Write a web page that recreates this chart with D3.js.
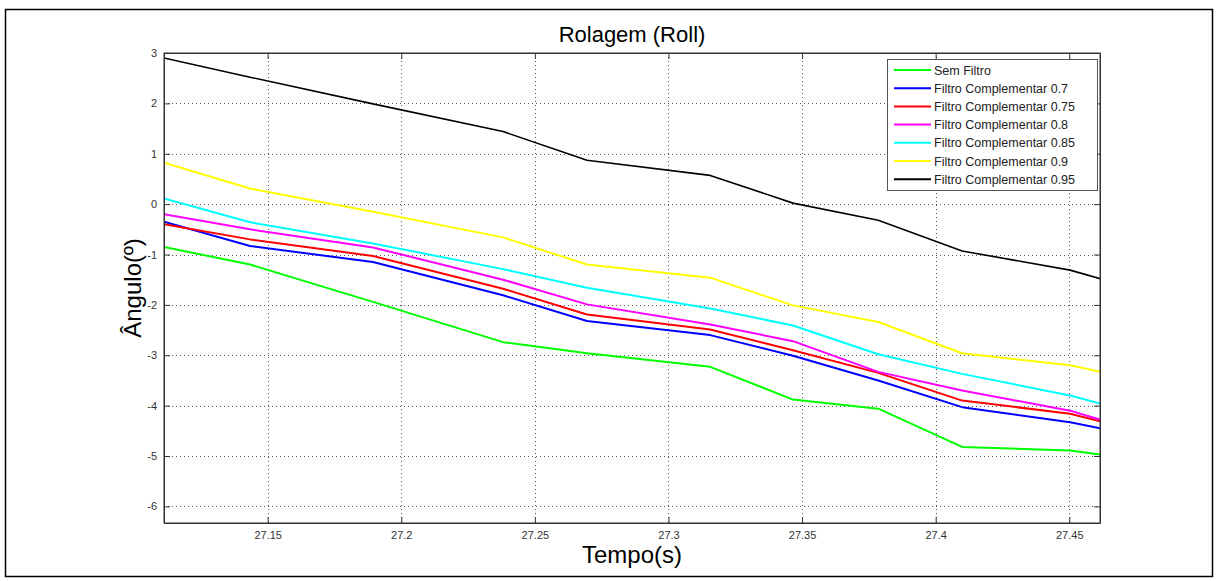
<!DOCTYPE html>
<html>
<head>
<meta charset="utf-8">
<script src="https://cdn.jsdelivr.net/npm/d3@7"></script>
<style>
  body { margin: 0; background: #fff; }
  text { font-family: Arial, "Liberation Sans", sans-serif; }
</style>
</head>
<body>
<div class="container"></div>
<script>
// dados
const tempo = [27.1112, 27.1434, 27.1894, 27.2381, 27.2695, 27.3156, 27.3466, 27.3785, 27.4099, 27.4503, 27.4616]
const semFiltro = [-0.85, -1.20, -1.94, -2.74, -2.96, -3.23, -3.88, -4.06, -4.82, -4.89, -4.97]
const comp070 = [-0.35, -0.83, -1.15, -1.81, -2.32, -2.60, -3.01, -3.50, -4.03, -4.33, -4.45]
const comp075 = [-0.40, -0.70, -1.03, -1.68, -2.19, -2.49, -2.90, -3.35, -3.90, -4.16, -4.31]
const comp080 = [-0.20, -0.50, -0.86, -1.50, -1.99, -2.39, -2.72, -3.33, -3.70, -4.10, -4.28]
const comp085 = [0.11, -0.36, -0.78, -1.29, -1.66, -2.07, -2.41, -2.98, -3.37, -3.80, -3.96]
const comp090 = [0.82, 0.31, -0.15, -0.66, -1.20, -1.46, -2.01, -2.34, -2.96, -3.20, -3.33]
const comp095 = [2.90, 2.52, 1.99, 1.44, 0.87, 0.57, 0.02, -0.32, -0.93, -1.31, -1.48]

const nomes = ["Sem Filtro", "Filtro Complementar 0.7", "Filtro Complementar 0.75", "Filtro Complementar 0.8",
               "Filtro Complementar 0.85", "Filtro Complementar 0.9", "Filtro Complementar 0.95"]
const cores = ["#00ff00", "#0000ff", "#ff0000", "#ff00ff", "#00ffff", "#ffff00", "#000000"]
const series = [semFiltro, comp070, comp075, comp080, comp085, comp090, comp095]

const xTicks = [27.15, 27.2, 27.25, 27.3, 27.35, 27.4, 27.45]
const yTicks = [3, 2, 1, 0, -1, -2, -3, -4, -5, -6]

const WIDTH = 1218, HEIGHT = 581
const margin = { left: 164, right: 118, top: 53, bottom: 58 }

const svg = d3.select(".container")
    .append("svg")
    .attr("width", WIDTH)
    .attr("height", HEIGHT)

// moldura externa
svg.append("rect")
    .attr("x", 5.5).attr("y", 9.5)
    .attr("width", 1207).attr("height", 567)
    .attr("fill", "none")
    .attr("stroke", "#000")
    .attr("stroke-width", 1.5)

const x = d3.scaleLinear()
    .domain([27.1112, 27.4615])
    .range([margin.left, WIDTH - margin.right])
const y = d3.scaleLinear()
    .domain([-6.33, 3])
    .range([HEIGHT - margin.bottom, margin.top])

const x0 = x.range()[0], x1 = x.range()[1]
const y0 = y.range()[1], y1 = y.range()[0]

// grade pontilhada
const grade = svg.append("g").attr("class", "grade")
grade.selectAll(".gx")
    .data(xTicks)
    .join("line")
    .attr("x1", d => Math.round(x(d)) + 0.5).attr("x2", d => Math.round(x(d)) + 0.5)
    .attr("y1", y0).attr("y2", y1)
    .attr("stroke", "#555")
    .attr("stroke-dasharray", "1,3")
grade.selectAll(".gy")
    .data(yTicks)
    .join("line")
    .attr("x1", x0).attr("x2", x1)
    .attr("y1", d => Math.round(y(d)) + 0.5).attr("y2", d => Math.round(y(d)) + 0.5)
    .attr("stroke", "#555")
    .attr("stroke-dasharray", "1,3")

// linhas
const linha = d3.line()
    .x((d, i) => x(tempo[i]))
    .y(d => y(d))

svg.append("defs").append("clipPath").attr("id", "clip")
    .append("rect").attr("x", x0).attr("y", y0).attr("width", x1 - x0).attr("height", y1 - y0)

svg.append("g")
    .attr("clip-path", "url(#clip)")
    .selectAll("path")
    .data(series)
    .join("path")
    .attr("d", d => linha(d))
    .attr("fill", "none")
    .attr("stroke", (_, i) => cores[i])
    .attr("stroke-width", (_, i) => i == 6 ? 1.6 : 2)
    .attr("stroke-linejoin", "round")

// eixos (ticks para dentro, caixa fechada)
const rotulo = d => String(d)
svg.append("g")
    .attr("transform", `translate(0 ${y1})`)
    .call(d3.axisBottom(x).tickValues(xTicks).tickSize(-6).tickSizeOuter(0).tickPadding(8).tickFormat(rotulo))
svg.append("g")
    .attr("transform", `translate(0 ${y0})`)
    .call(d3.axisTop(x).tickValues(xTicks).tickSize(-6).tickSizeOuter(0).tickFormat(""))
svg.append("g")
    .attr("transform", `translate(${x0} 0)`)
    .call(d3.axisLeft(y).tickValues(yTicks).tickSize(-6).tickSizeOuter(0).tickPadding(7).tickFormat(rotulo))
svg.append("g")
    .attr("transform", `translate(${x1} 0)`)
    .call(d3.axisRight(y).tickValues(yTicks).tickSize(-6).tickSizeOuter(0).tickFormat(""))

svg.selectAll(".domain").attr("stroke", "#333")
svg.selectAll(".tick line").attr("stroke", "#333")
svg.selectAll(".tick text")
    .style("font-size", "11px")
    .attr("fill", "#333")

svg.append("rect")
    .attr("x", x0).attr("y", y0)
    .attr("width", x1 - x0).attr("height", y1 - y0)
    .attr("fill", "none")
    .attr("stroke", "#333")

// titulos
svg.append("text")
    .attr("x", (x0 + x1) / 2)
    .attr("y", 42)
    .attr("text-anchor", "middle")
    .style("font-size", "22px")
    .text("Rolagem (Roll)")

svg.append("text")
    .attr("x", (x0 + x1) / 2)
    .attr("y", 563)
    .attr("text-anchor", "middle")
    .style("font-size", "24px")
    .text("Tempo(s)")

svg.append("text")
    .attr("transform", `translate(141 ${(y0 + y1) / 2}) rotate(-90)`)
    .attr("text-anchor", "middle")
    .style("font-size", "24px")
    .text("Ângulo(º)")

// legenda
const leyenda = svg.append("g").attr("class", "legenda")
leyenda.append("rect")
    .attr("x", 887.5).attr("y", 59.5)
    .attr("width", 210).attr("height", 131)
    .attr("fill", "#fff")
    .attr("stroke", "#555")

leyenda.selectAll("line")
    .data(nomes)
    .join("line")
    .attr("x1", 894).attr("x2", 931)
    .attr("y1", (_, i) => 70 + i * 18.2).attr("y2", (_, i) => 70 + i * 18.2)
    .attr("stroke", (_, i) => cores[i])
    .attr("stroke-width", 2)

leyenda.selectAll("text")
    .data(nomes)
    .join("text")
    .attr("x", 934)
    .attr("y", (_, i) => 74.5 + i * 18.2)
    .style("font-size", "12.5px")
    .attr("fill", "#222")
    .text(d => d)
</script>
</body>
</html>
